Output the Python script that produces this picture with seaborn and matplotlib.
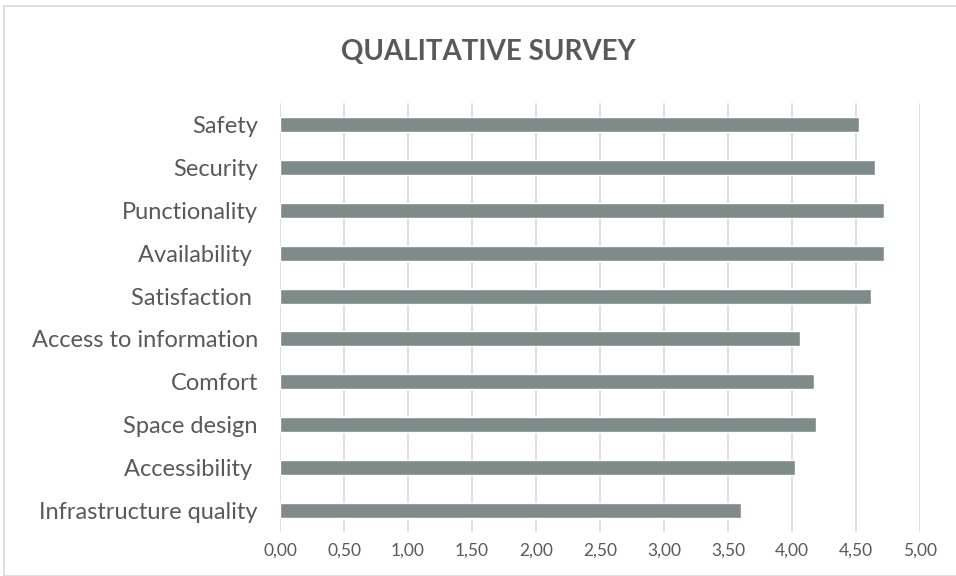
import matplotlib
matplotlib.use("Agg")
import matplotlib.pyplot as plt
import seaborn as sns
import pandas as pd
from matplotlib.ticker import FuncFormatter, MultipleLocator
from matplotlib.patches import Rectangle

categories = ["Safety", "Security", "Punctionality", "Availability ", "Satisfaction ",
              "Access to information", "Comfort", "Space design", "Accessibility ",
              "Infrastructure quality"]
values = [4.52, 4.65, 4.72, 4.72, 4.62, 4.06, 4.17, 4.19, 4.02, 3.60]
title = "QUALITATIVE SURVEY"

sns.set_theme(style="white")
plt.rcParams['font.family'] = ['Lato', 'DejaVu Sans']

df = pd.DataFrame({"category": categories, "value": values})

fig = plt.figure(figsize=(9.56, 5.76), dpi=100)
ax = fig.add_axes([280/956, 1-532/576, 640/956, (532-103)/576])

sns.barplot(data=df, x="value", y="category", orient="h", color="#7F8B88",
            width=0.35, saturation=1, ax=ax, zorder=3)

ax.set_xlim(0, 5)
ax.xaxis.set_major_locator(MultipleLocator(0.5))
ax.xaxis.set_major_formatter(FuncFormatter(lambda v, p: f"{v:.2f}".replace(".", ",")))
ax.grid(axis="x", color="#D9D9D9", linewidth=1.2, zorder=0)
ax.grid(axis="y", visible=False)
for s in ax.spines.values():
    s.set_visible(False)
ax.set_xlabel("")
ax.set_ylabel("")
ax.tick_params(axis="y", length=0, pad=16, labelsize=17, labelcolor="#595959")
ax.tick_params(axis="x", length=0, pad=8, labelsize=12.5, labelcolor="#595959")

fig.text(488/956, 1-52/576, title, ha="center", va="center", fontsize=20,
         fontweight="bold", color="#595959")

fig.patches.append(Rectangle((4/956, 0), 1.5, 1-6/576, transform=fig.transFigure,
                             fill=False, edgecolor="#D9D9D9", linewidth=1.2))

fig.savefig("out.png", dpi=100)
